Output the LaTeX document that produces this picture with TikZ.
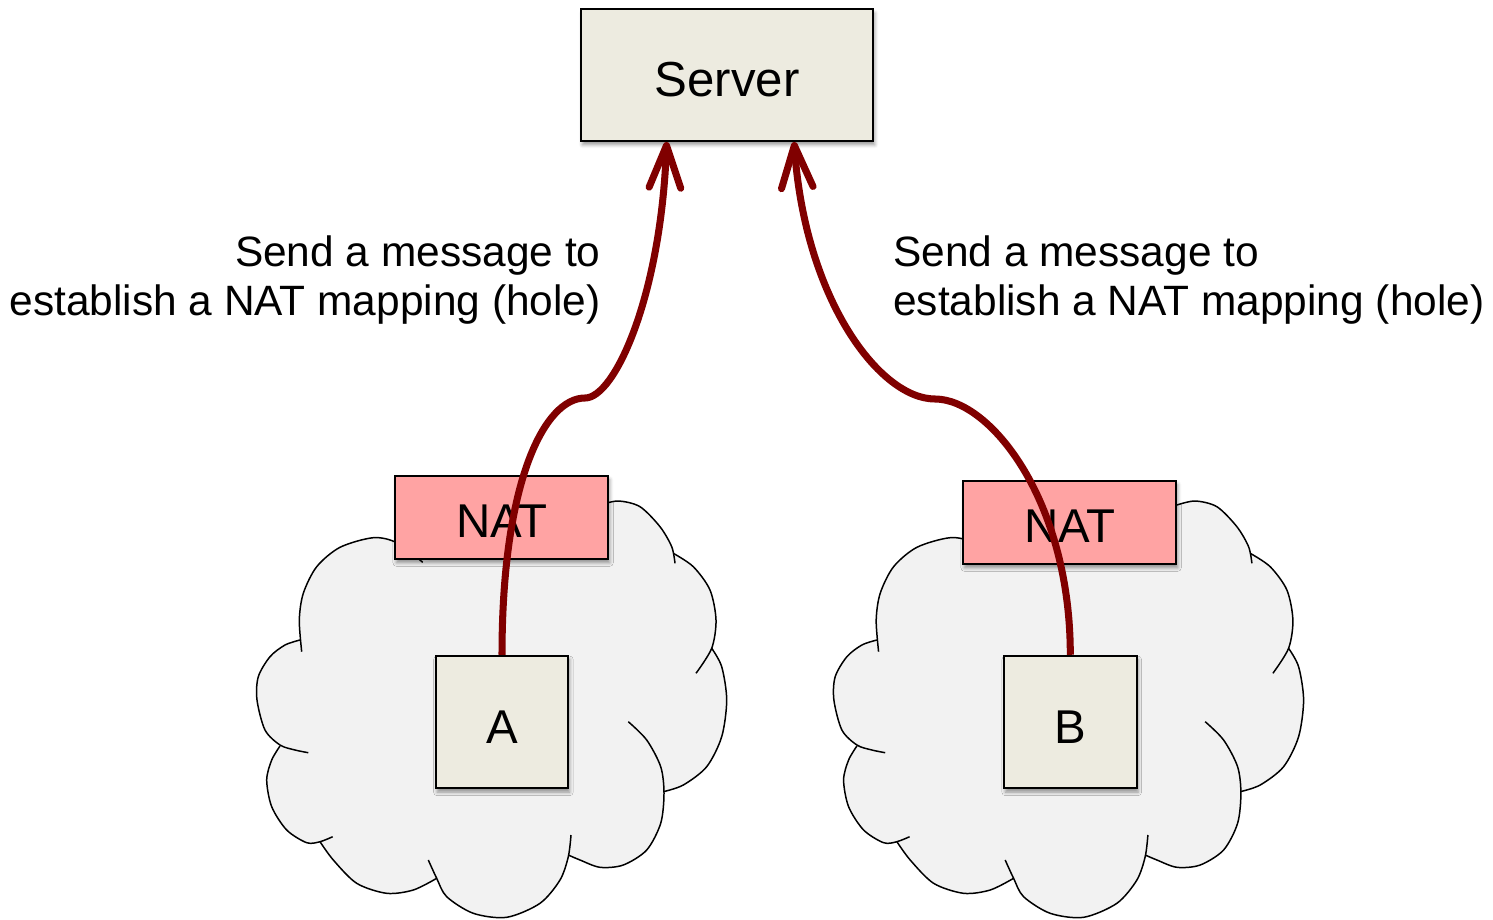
\documentclass[tikz,border=0pt]{standalone}
\usepackage{fontspec}
\setmainfont{Liberation Sans}
\usetikzlibrary{arrows.meta,shadows.blur,calc}

\definecolor{boxfill}{RGB}{237,235,224}
\definecolor{natfill}{RGB}{255,163,163}
\definecolor{cloudfill}{RGB}{242,242,242}
\definecolor{msgred}{RGB}{128,0,0}

\tikzset{
  boxshadow/.style={blur shadow={shadow xshift=0.8pt, shadow yshift=-2.2pt,
      shadow blur radius=2pt, shadow opacity=40}},
  hostbox/.style={draw=black, line width=1.1pt, fill=boxfill, boxshadow,
      minimum width=2.652cm, minimum height=2.652cm, inner sep=0pt,
      font=\fontsize{27}{30}\selectfont, text height=24.2pt, text depth=0pt},
  serverbox/.style={hostbox, minimum width=5.846cm, minimum height=2.634cm,
      font=\fontsize{28}{30}\selectfont, text height=23.8pt},
  natbox/.style={draw=black, line width=1.1pt, fill=natfill, boxshadow,
      minimum width=4.266cm, minimum height=1.666cm, inner sep=0pt,
      font=\fontsize{27}{30}\selectfont, text height=22.6pt, text depth=0pt},
  cloudline/.style={draw=black, line width=0.85pt},
  msg/.style={draw=msgred, line width=4pt,
      -{Straight Barb[length=24pt, width=18pt, round]}},
  note/.style={inner sep=0pt, font=\fontsize{24.15}{28}\selectfont}
}

% one private network cloud, drawn as separate puffs with inner tails
\newcommand{\netcloud}{%
  \fill[cloudfill]
    plot[smooth] coordinates {(301.7,-651.7) (299.3,-620) (303.3,-593.3) (316.7,-566.7) (340,-547.3) (373.3,-537.7) (396.7,-542.7) (422.7,-562.3)}
    -- plot[smooth] coordinates {(600,-505) (618.3,-501) (640,-506.7) (660,-526.7) (671.7,-546.7) (675,-563.3)}
    -- plot[smooth] coordinates {(673.3,-553.3) (693.3,-566.7) (710,-590) (716,-620) (711.7,-648.3) (696,-673.3)}
    -- plot[smooth] coordinates {(711.7,-648.3) (721.7,-666.7) (726.7,-700) (721.7,-736.7) (706.7,-766.7) (683.3,-785) (663.3,-791.7)}
    -- plot[smooth] coordinates {(628.3,-721.7) (646.7,-740) (660.7,-766.7) (664,-793.3) (660.7,-823.3) (646.7,-850) (623.3,-865) (600,-867.3) (580,-860) (568.3,-855)}
    -- plot[smooth] coordinates {(571,-835) (568.3,-856.7) (560,-880) (540,-903.3) (506.7,-917.3) (473.3,-913.3) (446.7,-896.7) (436.7,-878.3) (428.3,-860)}
    -- plot[smooth] coordinates {(436.7,-878.3) (413.3,-890) (386.7,-893.3) (356.7,-883.3) (333.3,-860) (320,-841.7)}
    -- plot[smooth] coordinates {(332.7,-836.7) (320,-841.7) (306.7,-842.7) (286.7,-830) (271.7,-806.7) (266.7,-780) (271.7,-760) (280,-746)}
    -- plot[smooth] coordinates {(308.3,-752.7) (295,-750) (280,-745) (265,-730) (257,-700) (258.3,-676.7) (270,-656.7) (285,-645) (300,-640)}
    -- cycle;
  \draw[cloudline] plot[smooth] coordinates {(301.7,-651.7) (299.3,-620) (303.3,-593.3) (316.7,-566.7) (340,-547.3) (373.3,-537.7) (396.7,-542.7) (422.7,-562.3)};
  \draw[cloudline] plot[smooth] coordinates {(600,-505) (618.3,-501) (640,-506.7) (660,-526.7) (671.7,-546.7) (675,-563.3)};
  \draw[cloudline] plot[smooth] coordinates {(673.3,-553.3) (693.3,-566.7) (710,-590) (716,-620) (711.7,-648.3) (696,-673.3)};
  \draw[cloudline] plot[smooth] coordinates {(711.7,-648.3) (721.7,-666.7) (726.7,-700) (721.7,-736.7) (706.7,-766.7) (683.3,-785) (663.3,-791.7)};
  \draw[cloudline] plot[smooth] coordinates {(628.3,-721.7) (646.7,-740) (660.7,-766.7) (664,-793.3) (660.7,-823.3) (646.7,-850) (623.3,-865) (600,-867.3) (580,-860) (568.3,-855)};
  \draw[cloudline] plot[smooth] coordinates {(571,-835) (568.3,-856.7) (560,-880) (540,-903.3) (506.7,-917.3) (473.3,-913.3) (446.7,-896.7) (436.7,-878.3) (428.3,-860)};
  \draw[cloudline] plot[smooth] coordinates {(436.7,-878.3) (413.3,-890) (386.7,-893.3) (356.7,-883.3) (333.3,-860) (320,-841.7)};
  \draw[cloudline] plot[smooth] coordinates {(332.7,-836.7) (320,-841.7) (306.7,-842.7) (286.7,-830) (271.7,-806.7) (266.7,-780) (271.7,-760) (280,-746)};
  \draw[cloudline] plot[smooth] coordinates {(308.3,-752.7) (295,-750) (280,-745) (265,-730) (257,-700) (258.3,-676.7) (270,-656.7) (285,-645) (300,-640)};
}

\begin{document}
\begin{tikzpicture}[x=0.02cm, y=0.02cm]
  \useasboundingbox (0,0) rectangle (1493,-919);

  % private networks
  \netcloud
  \begin{scope}[xshift=11.54cm]
    \netcloud
  \end{scope}

  % boxes
  \node[serverbox] (server) at (727.2,-75.2) {Server};
  \node[natbox] (natA) at (501.7,-517.3) {NAT};
  \node[natbox] (natB) at (1069.7,-522.3) {NAT};
  \node[hostbox] (A) at (502,-722) {A};
  \node[hostbox] (B) at (1070.3,-722) {B};

  % explanatory text
  \node[note, align=right, anchor=east] (noteA) at (601,-280)
    {Send a message to\\establish a NAT mapping (hole)};
  \node[note, align=left, anchor=west] (noteB) at (893,-280)
    {Send a message to\\establish a NAT mapping (hole)};

  % hole-punching messages
  \coordinate (bendA) at (585,-398);
  \coordinate (tipA) at ($(server.south west)+(86.5,0)$);
  \coordinate (bendB) at (935,-399);
  \coordinate (tipB) at ($(server.south west)+(214,0)$);

  \draw[msg] (A.north) .. controls (502,-480) and (545,-398) .. (bendA)
             .. controls (615,-398) and (661,-295) .. (tipA);
  \draw[msg] (B.north) .. controls (1070.3,-500) and (990,-399) .. (bendB)
             .. controls (880,-399) and (805,-300) .. (tipB);
\end{tikzpicture}
\end{document}
